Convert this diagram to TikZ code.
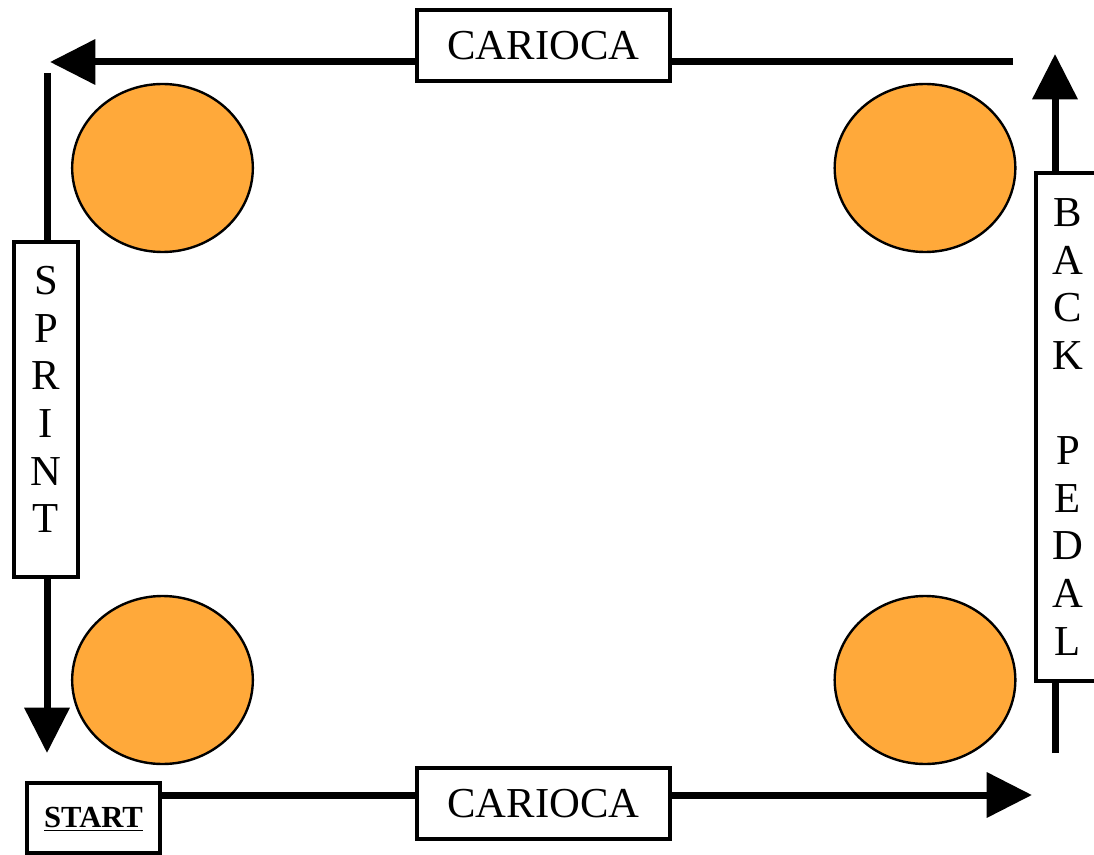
\documentclass[tikz,border=0pt]{standalone}
\usepackage{fontspec}
\setmainfont{Liberation Serif}
\usepackage{tikz}
\usetikzlibrary{arrows.meta,shapes.geometric}
\usepackage{xcolor}
\definecolor{coneorange}{RGB}{255,169,58}

\begin{document}
\begin{tikzpicture}[x=0.75pt,y=-0.75pt,
  drillbox/.style={draw, line width=3pt, fill=white, inner sep=0pt, font=\fontsize{32}{35.7}\selectfont},
  lane/.style={line width=5.25pt},
  lanearrow/.style={lane, -{Triangle[length=34pt,width=33pt]}},
  cone/.style={ellipse, draw, line width=1.8pt, fill=coneorange, minimum width=135.5pt, minimum height=126pt, inner sep=0pt}]
\useasboundingbox (0,0) rectangle (1094,855);
\clip (0,0) rectangle (1094,855);

% Cones at the four corners
\node[cone] (coneNW) at (162.5,168) {};
\node[cone] (coneNE) at (925,168) {};
\node[cone] (coneSW) at (162.5,680) {};
\node[cone] (coneSE) at (925,680) {};

% Drill labels
\node[drillbox, minimum width=190pt, minimum height=53pt] (cariocaTop) at (543.5,45.5) {CARIOCA};
\node[drillbox, minimum width=190pt, minimum height=53pt] (cariocaBottom) at (543.5,803.5) {CARIOCA};
\node[drillbox, minimum width=48pt, minimum height=251pt, align=center, text depth=15pt] (sprint) at (46,409.5) {S\\P\\R\\I\\N\\T};
\node[drillbox, minimum width=48pt, minimum height=381pt, align=center] (backPedal) at (1068,427) {B\\A\\C\\K\\ \\P\\E\\D\\A\\L};
\node[drillbox, minimum width=100pt, minimum height=52.5pt, text height=17pt, font=\fontsize{23}{26}\selectfont\bfseries] (start) at (93.5,818) {\underline{START}};

% Ends of the lanes
\coordinate (topEnd) at (1013,62);
\coordinate (topTip) at (50,62);
\coordinate (sprintEnd) at (47,73);
\coordinate (sprintTip) at (47,753);
\coordinate (pedalEnd) at (1055,753);
\coordinate (pedalTip) at (1055,54);
\coordinate (bottomTip) at (1032,795);

% Lanes
\draw[lane] (topEnd) -- (cariocaTop.east |- topEnd);
\draw[lanearrow] (cariocaTop.west |- topTip) -- (topTip);
\draw[lane] (sprintEnd) -- (sprintEnd |- sprint.north);
\draw[lanearrow] (sprintEnd |- sprint.south) -- (sprintTip);
\draw[lane] (pedalEnd) -- (pedalEnd |- backPedal.south);
\draw[lanearrow] (pedalEnd |- backPedal.north) -- (pedalTip);
\draw[lane] (start.east |- bottomTip) -- (cariocaBottom.west |- bottomTip);
\draw[lanearrow] (cariocaBottom.east |- bottomTip) -- (bottomTip);
\end{tikzpicture}
\end{document}
